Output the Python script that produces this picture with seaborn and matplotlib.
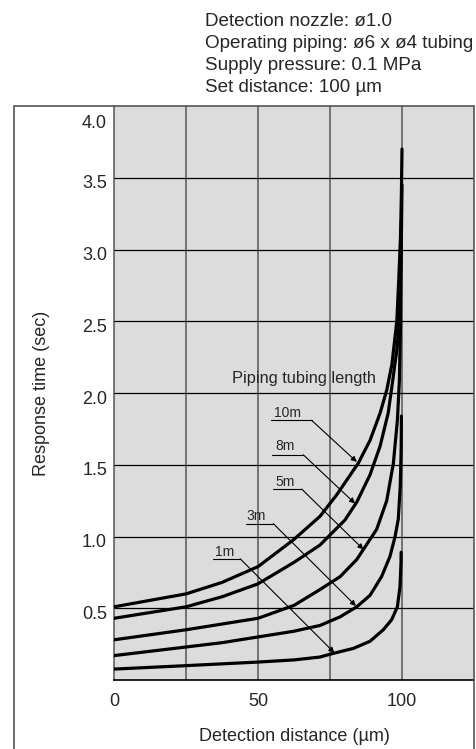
import matplotlib
matplotlib.use('Agg')
import matplotlib.pyplot as plt
import matplotlib.patches as mpatches
import matplotlib.transforms as mtransforms
import pandas as pd
import seaborn as sns

# response curves (distance um, response time sec)
x_1m = [0, 25, 50, 62.5, 71.5, 76.2, 83.1, 88.9, 93.5, 96.4, 98.4, 99.3, 99.65, 99.7]
y_1m = [0.076, 0.10, 0.125, 0.14, 0.16, 0.186, 0.22, 0.27, 0.35, 0.42, 0.51, 0.65, 0.815,
        0.89]
x_3m = [0, 25, 37.5, 50, 62.5, 71.5, 78.5, 84.3, 88.9, 92.9, 95.8, 97.6, 98.7, 99.4,
        99.7, 99.8]
y_3m = [0.17, 0.23, 0.26, 0.30, 0.34, 0.38, 0.44, 0.51, 0.59, 0.72, 0.86, 1.00, 1.12, 1.35,
        1.60, 1.84]
x_5m = [0, 25, 37.5, 50, 62.5, 71.5, 78.5, 84.3, 88.9, 91.2, 94.7, 97.0, 98.4, 99.1,
        99.5, 99.7, 99.8]
y_5m = [0.28, 0.35, 0.39, 0.43, 0.52, 0.63, 0.72, 0.84, 0.98, 1.05, 1.25, 1.51, 1.81, 2.09,
        2.50, 3.00, 3.20]
x_8m = [0, 25, 37.5, 50, 62.5, 71.5, 80.2, 84.3, 88.9, 92.4, 95.2, 96.8, 98.2, 99.0,
        99.5, 99.8, 100]
y_8m = [0.43, 0.51, 0.58, 0.67, 0.82, 0.94, 1.115, 1.24, 1.43, 1.63, 1.86, 2.09, 2.30, 2.50,
        2.80, 3.10, 3.45]
x_10m = [0, 25, 37.5, 50, 62.2, 71.5, 77.3, 84.8, 88.9, 92.4, 94.7, 96.5, 98.2, 98.9,
         99.5, 99.8, 100]
y_10m = [0.51, 0.60, 0.68, 0.79, 0.975, 1.14, 1.29, 1.51, 1.67, 1.86, 2.02, 2.20, 2.50, 2.80,
         3.10, 3.40, 3.70]

lengths = ['1m', '3m', '5m', '8m', '10m']
# label text position, underline span and arrow tip
label_pos = [(38.5, 0.89), (49.5, 1.14), (59.4, 1.38), (59.4, 1.63), (60.4, 1.86)]
underline_x = [(34.5, 43.8), (45.8, 55.3), (55.1, 65.2), (54.7, 65.7), (54.4, 68.6)]
underline_y = [0.845, 1.09, 1.33, 1.57, 1.81]
arrow_tip = [(76.5, 0.19), (84.0, 0.516), (86.6, 0.91), (83.7, 1.23), (84.3, 1.52)]

x_ticks = [0, 50, 100]
y_ticks = [0.5, 1.0, 1.5, 2.0, 2.5, 3.0, 3.5, 4.0]

conditions = ['Detection nozzle: ø1.0',
              'Operating piping: ø6 x ø4 tubing',
              'Supply pressure: 0.1 MPa',
              'Set distance: 100 µm']

frames = []
for name, xs, ys in zip(lengths, [x_1m, x_3m, x_5m, x_8m, x_10m],
                        [y_1m, y_3m, y_5m, y_8m, y_10m]):
    frames.append(pd.DataFrame({'distance': xs, 'time': ys, 'length': name}))
df = pd.concat(frames, ignore_index=True)

sns.set_style('white')
plt.rcParams['font.family'] = ['Liberation Sans', 'DejaVu Sans']

fig = plt.figure(figsize=(4.76, 7.49), dpi=100)
ax = fig.add_axes([114 / 476, 69 / 749, 360 / 476, 574 / 749])

# outer frame around the chart
frame = mpatches.Rectangle((13.5 / 476, -0.05), (474 - 13.5) / 476, 0.05 + (749 - 105.7) / 749,
                           transform=fig.transFigure, fill=False, edgecolor='#555555',
                           linewidth=1.2, zorder=0)
fig.patches.append(frame)

ax.set_facecolor('#dcdcdc')
for v in [25, 50, 75, 100]:
    ax.axvline(v, color='#555555', linewidth=1.1, zorder=1)
for h in y_ticks[:-1]:
    ax.axhline(h, color='black', linewidth=0.9, zorder=1)

sns.lineplot(data=df, x='distance', y='time', units='length', estimator=None,
             sort=False, color='black', linewidth=2.3, ax=ax, zorder=3)

for name, (tx, ty), (u0, u1), uy, tip in zip(lengths, label_pos, underline_x,
                                                underline_y, arrow_tip):
    ax.text(tx, ty, name, fontsize=10, ha='center', va='center', zorder=4)
    ax.plot([u0, u1], [uy, uy], color='black', linewidth=0.8, zorder=4)
    ax.annotate('', xy=tip, xytext=(u1, uy),
                arrowprops=dict(arrowstyle='-|>', color='black', lw=0.8,
                                mutation_scale=8, shrinkA=0, shrinkB=0), zorder=4)

ax.text(66, 2.10, 'Piping tubing length', fontsize=11.8, ha='center', va='center',
        zorder=4)

ax.set_xlim(0, 125)
ax.set_ylim(0, 4.0)
ax.set_xticks(x_ticks)
ax.set_yticks(y_ticks)
ax.set_yticklabels([f'{t:.1f}' for t in y_ticks])
ax.tick_params(axis='both', length=0, labelsize=13)
ax.tick_params(axis='y', pad=5)
ax.tick_params(axis='x', pad=9)

# y labels sit a little below their grid lines, 4.0 inside the frame
for t, lab in zip(y_ticks, ax.get_yticklabels()):
    dy = -15 if t == 4.0 else -4
    lab.set_transform(lab.get_transform() +
                      mtransforms.ScaledTranslation(0, dy / 100, fig.dpi_scale_trans))

for side in ['top', 'right']:
    ax.spines[side].set_visible(False)
ax.spines['left'].set_color('#555555')
ax.spines['left'].set_linewidth(1.1)
ax.spines['bottom'].set_color('black')
ax.spines['bottom'].set_linewidth(1.2)

ax.set_xlabel('Detection distance (µm)', fontsize=13, labelpad=13)
ax.set_ylabel('Response time (sec)', fontsize=13, labelpad=23)

for i, line in enumerate(conditions):
    fig.text(205 / 476, 1 - (21 + 22 * i) / 749, line, fontsize=13.6, ha='left',
             va='center')

fig.savefig('out.png', dpi=100)
